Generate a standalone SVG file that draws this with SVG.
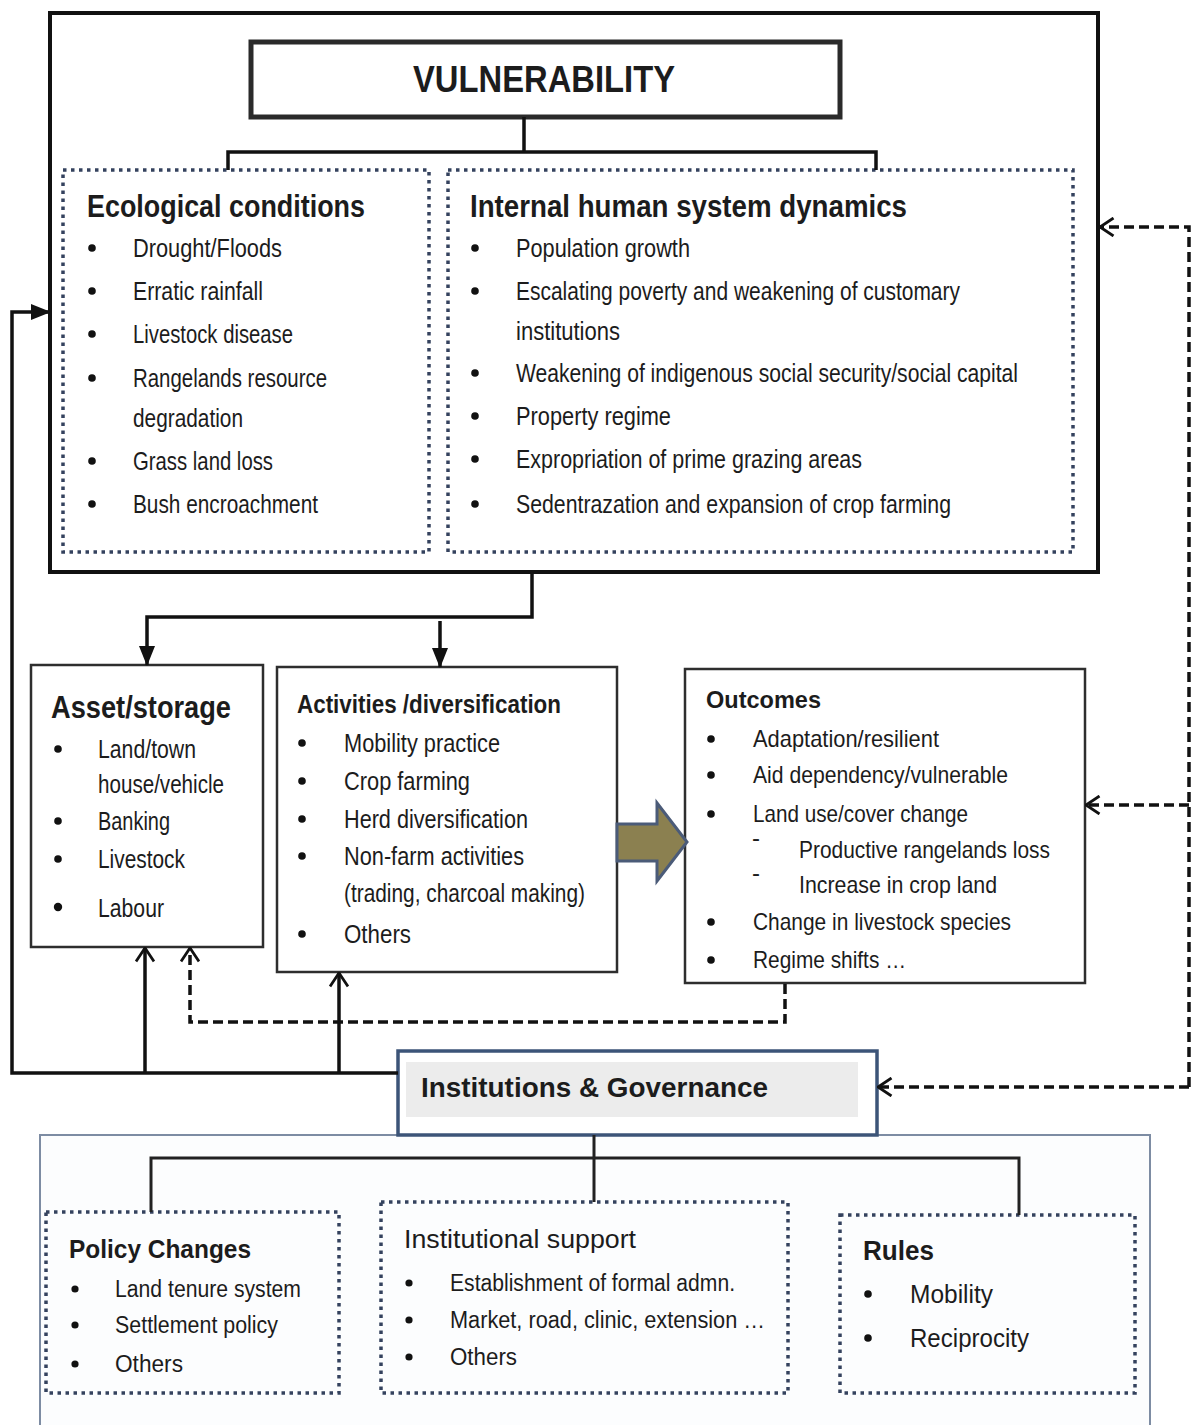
<svg xmlns="http://www.w3.org/2000/svg" width="1197" height="1425" viewBox="0 0 1197 1425">
<style>
text{font-family:"Liberation Sans",Arial,sans-serif;fill:#1c1c1c}
.b{font-weight:bold}
.dot{fill:none;stroke:#34425e;stroke-width:3.5;stroke-dasharray:3.5 4.5}
.box{fill:#fff;stroke:#2e2e2e;stroke-width:2.5}
.ln{fill:none;stroke:#111;stroke-width:3.5}
.dash{fill:none;stroke:#111;stroke-width:3.5;stroke-dasharray:10 5}
.bul{fill:#111}
</style>
<defs>
<marker id="fa" viewBox="0 0 20 16" refX="19" refY="8" markerWidth="20" markerHeight="16" markerUnits="userSpaceOnUse" orient="auto">
<path d="M0,0 L20,8 L0,16 z" fill="#111"/>
</marker>
<marker id="oa" viewBox="0 0 16 20" refX="14.5" refY="10" markerWidth="16" markerHeight="20" markerUnits="userSpaceOnUse" orient="auto">
<path d="M1,1 L14.5,10 L1,19" fill="none" stroke="#111" stroke-width="2.8"/>
</marker>
</defs>

<g id="vulnerability-frame">
<rect x="50" y="13" width="1048" height="559" fill="#fff" stroke="#111" stroke-width="4"/>
</g>

<g id="vulnerability">
<rect x="251" y="42" width="589" height="75" fill="#fff" stroke="#2a2a2a" stroke-width="5"/>
<text class="b" x="413" y="92" font-size="37" textLength="262" lengthAdjust="spacingAndGlyphs">VULNERABILITY</text>
</g>

<g id="ecological">
<rect class="dot" x="63" y="170" width="366" height="382"/>
<text class="b" x="87" y="217" font-size="32" textLength="278" lengthAdjust="spacingAndGlyphs">Ecological conditions</text>
<g font-size="25">
<circle class="bul" cx="92" cy="248" r="3.8"/><text x="133" y="257" textLength="149" lengthAdjust="spacingAndGlyphs">Drought/Floods</text>
<circle class="bul" cx="92" cy="291" r="3.8"/><text x="133" y="300" textLength="130" lengthAdjust="spacingAndGlyphs">Erratic rainfall</text>
<circle class="bul" cx="92" cy="334" r="3.8"/><text x="133" y="343" textLength="160" lengthAdjust="spacingAndGlyphs">Livestock disease</text>
<circle class="bul" cx="92" cy="378" r="3.8"/><text x="133" y="387" textLength="194" lengthAdjust="spacingAndGlyphs">Rangelands resource</text>
<text x="133" y="427" textLength="110" lengthAdjust="spacingAndGlyphs">degradation</text>
<circle class="bul" cx="92" cy="461" r="3.8"/><text x="133" y="470" textLength="140" lengthAdjust="spacingAndGlyphs">Grass land loss</text>
<circle class="bul" cx="92" cy="504" r="3.8"/><text x="133" y="513" textLength="185" lengthAdjust="spacingAndGlyphs">Bush encroachment</text>
</g>
</g>

<g id="internal">
<rect class="dot" x="448" y="170" width="625" height="382"/>
<text class="b" x="470" y="217" font-size="32" textLength="437" lengthAdjust="spacingAndGlyphs">Internal human system dynamics</text>
<g font-size="25">
<circle class="bul" cx="475" cy="248" r="3.8"/><text x="516" y="257" textLength="174" lengthAdjust="spacingAndGlyphs">Population growth</text>
<circle class="bul" cx="475" cy="291" r="3.8"/><text x="516" y="300" textLength="444" lengthAdjust="spacingAndGlyphs">Escalating poverty and weakening of customary</text>
<text x="516" y="340" textLength="104" lengthAdjust="spacingAndGlyphs">institutions</text>
<circle class="bul" cx="475" cy="373" r="3.8"/><text x="516" y="382" textLength="502" lengthAdjust="spacingAndGlyphs">Weakening of indigenous social security/social capital</text>
<circle class="bul" cx="475" cy="416" r="3.8"/><text x="516" y="425" textLength="155" lengthAdjust="spacingAndGlyphs">Property regime</text>
<circle class="bul" cx="475" cy="459" r="3.8"/><text x="516" y="468" textLength="346" lengthAdjust="spacingAndGlyphs">Expropriation of prime grazing areas</text>
<circle class="bul" cx="475" cy="504" r="3.8"/><text x="516" y="513" textLength="435" lengthAdjust="spacingAndGlyphs">Sedentrazation and expansion of crop farming</text>
</g>
</g>

<g id="asset">
<rect class="box" x="31" y="665" width="232" height="282"/>
<text class="b" x="51" y="718" font-size="32" textLength="180" lengthAdjust="spacingAndGlyphs">Asset/storage</text>
<g font-size="25">
<circle class="bul" cx="58" cy="749" r="3.8"/><text x="98" y="758" textLength="98" lengthAdjust="spacingAndGlyphs">Land/town</text>
<text x="98" y="793" textLength="126" lengthAdjust="spacingAndGlyphs">house/vehicle</text>
<circle class="bul" cx="58" cy="821" r="3.8"/><text x="98" y="830" textLength="72" lengthAdjust="spacingAndGlyphs">Banking</text>
<circle class="bul" cx="58" cy="859" r="3.8"/><text x="98" y="868" textLength="87" lengthAdjust="spacingAndGlyphs">Livestock</text>
<circle class="bul" cx="58" cy="907" r="4.2"/><text x="98" y="917" textLength="66" lengthAdjust="spacingAndGlyphs">Labour</text>
</g>
</g>

<g id="activities">
<rect class="box" x="277" y="667" width="340" height="305"/>
<text class="b" x="297" y="713" font-size="25" textLength="264" lengthAdjust="spacingAndGlyphs">Activities /diversification</text>
<g font-size="25">
<circle class="bul" cx="302" cy="743" r="3.8"/><text x="344" y="752" textLength="156" lengthAdjust="spacingAndGlyphs">Mobility practice</text>
<circle class="bul" cx="302" cy="781" r="3.8"/><text x="344" y="790" textLength="126" lengthAdjust="spacingAndGlyphs">Crop farming</text>
<circle class="bul" cx="302" cy="819" r="3.8"/><text x="344" y="828" textLength="184" lengthAdjust="spacingAndGlyphs">Herd diversification</text>
<circle class="bul" cx="302" cy="856" r="3.8"/><text x="344" y="865" textLength="180" lengthAdjust="spacingAndGlyphs">Non-farm activities</text>
<text x="344" y="902" textLength="241" lengthAdjust="spacingAndGlyphs">(trading, charcoal making)</text>
<circle class="bul" cx="302" cy="934" r="3.8"/><text x="344" y="943" textLength="67" lengthAdjust="spacingAndGlyphs">Others</text>
</g>
</g>

<g id="outcomes">
<rect class="box" x="685" y="669" width="400" height="314" stroke="#4a4a4a"/>
<text class="b" x="706" y="708" font-size="24" textLength="115" lengthAdjust="spacingAndGlyphs">Outcomes</text>
<g font-size="24">
<circle class="bul" cx="711" cy="739" r="3.8"/><text x="753" y="747" textLength="186" lengthAdjust="spacingAndGlyphs">Adaptation/resilient</text>
<circle class="bul" cx="711" cy="775" r="3.8"/><text x="753" y="783" textLength="255" lengthAdjust="spacingAndGlyphs">Aid dependency/vulnerable</text>
<circle class="bul" cx="711" cy="814" r="3.8"/><text x="753" y="822" textLength="215" lengthAdjust="spacingAndGlyphs">Land use/cover change</text>
<text x="752" y="846">-</text>
<text x="799" y="858" textLength="251" lengthAdjust="spacingAndGlyphs">Productive rangelands loss</text>
<text x="752" y="881">-</text>
<text x="799" y="893" textLength="198" lengthAdjust="spacingAndGlyphs">Increase in crop land</text>
<circle class="bul" cx="711" cy="922" r="3.8"/><text x="753" y="930" textLength="258" lengthAdjust="spacingAndGlyphs">Change in livestock species</text>
<circle class="bul" cx="711" cy="960" r="3.8"/><text x="753" y="968" textLength="153" lengthAdjust="spacingAndGlyphs">Regime shifts …</text>
</g>
</g>

<g id="governance-frame">
<rect x="40" y="1135" width="1110" height="300" fill="#fcfdfe" stroke="#7d8ca3" stroke-width="2"/>
</g>

<g id="institutions">
<rect x="398" y="1051" width="479" height="84" fill="#fff" stroke="#3c5478" stroke-width="3.5"/>
<rect x="406" y="1062" width="452" height="55" fill="#ececec"/>
<text class="b" x="421" y="1097" font-size="27" textLength="347" lengthAdjust="spacingAndGlyphs">Institutions &amp; Governance</text>
</g>

<g id="policy">
<rect class="dot" x="46" y="1212" width="293" height="181"/>
<text class="b" x="69" y="1258" font-size="26" textLength="182" lengthAdjust="spacingAndGlyphs">Policy Changes</text>
<g font-size="23">
<circle class="bul" cx="75" cy="1289" r="3.6"/><text x="115" y="1297" textLength="186" lengthAdjust="spacingAndGlyphs">Land tenure system</text>
<circle class="bul" cx="75" cy="1325" r="3.6"/><text x="115" y="1333" textLength="163" lengthAdjust="spacingAndGlyphs">Settlement policy</text>
<circle class="bul" cx="75" cy="1364" r="3.6"/><text x="115" y="1372" textLength="68" lengthAdjust="spacingAndGlyphs">Others</text>
</g>
</g>

<g id="support">
<rect class="dot" x="381" y="1202" width="407" height="191"/>
<text x="404" y="1248" font-size="25" textLength="232" lengthAdjust="spacingAndGlyphs">Institutional support</text>
<g font-size="23">
<circle class="bul" cx="409" cy="1283" r="3.6"/><text x="450" y="1291" textLength="285" lengthAdjust="spacingAndGlyphs">Establishment of formal admn.</text>
<circle class="bul" cx="409" cy="1320" r="3.6"/><text x="450" y="1328" textLength="315" lengthAdjust="spacingAndGlyphs">Market, road, clinic, extension …</text>
<circle class="bul" cx="409" cy="1357" r="3.6"/><text x="450" y="1365" textLength="67" lengthAdjust="spacingAndGlyphs">Others</text>
</g>
</g>

<g id="rules">
<rect class="dot" x="840" y="1215" width="295" height="178"/>
<text class="b" x="863" y="1260" font-size="27" textLength="71" lengthAdjust="spacingAndGlyphs">Rules</text>
<g font-size="25">
<circle class="bul" cx="868" cy="1294" r="3.8"/><text x="910" y="1303" textLength="83" lengthAdjust="spacingAndGlyphs">Mobility</text>
<circle class="bul" cx="868" cy="1338" r="3.8"/><text x="910" y="1347" textLength="119" lengthAdjust="spacingAndGlyphs">Reciprocity</text>
</g>
</g>

<g id="connectors">
<path class="ln" stroke-width="4" d="M524,117 V152 M228,170 V152 H876 V170"/>
<path class="ln" stroke-width="4" d="M532,572 V617 H147 V665" marker-end="url(#fa)"/>
<path class="ln" stroke-width="4" d="M440,621 V667" marker-end="url(#fa)"/>
<polygon points="617,824 657,824 657,803 687,842 657,881 657,861 617,861" fill="#8b8050" stroke="#4b5b78" stroke-width="3" stroke-linejoin="miter"/>
<path class="ln" d="M398,1073 H12 V312 H50" marker-end="url(#fa)"/>
<path class="ln" d="M145,1073 V948" marker-end="url(#oa)"/>
<path class="ln" d="M339,1073 V973" marker-end="url(#oa)"/>
<path class="dash" d="M785,984 V1022 H190 V948" marker-end="url(#oa)"/>
<path class="dash" d="M1189,1087 V227 H1100" marker-end="url(#oa)"/>
<path class="dash" d="M1189,805 H1086" marker-end="url(#oa)"/>
<path class="dash" d="M1189,1087 H878" marker-end="url(#oa)"/>
<path fill="none" stroke="#222" stroke-width="3" d="M594,1135 V1202 M151,1212 V1158 H1019 V1215"/>
</g>
</svg>
